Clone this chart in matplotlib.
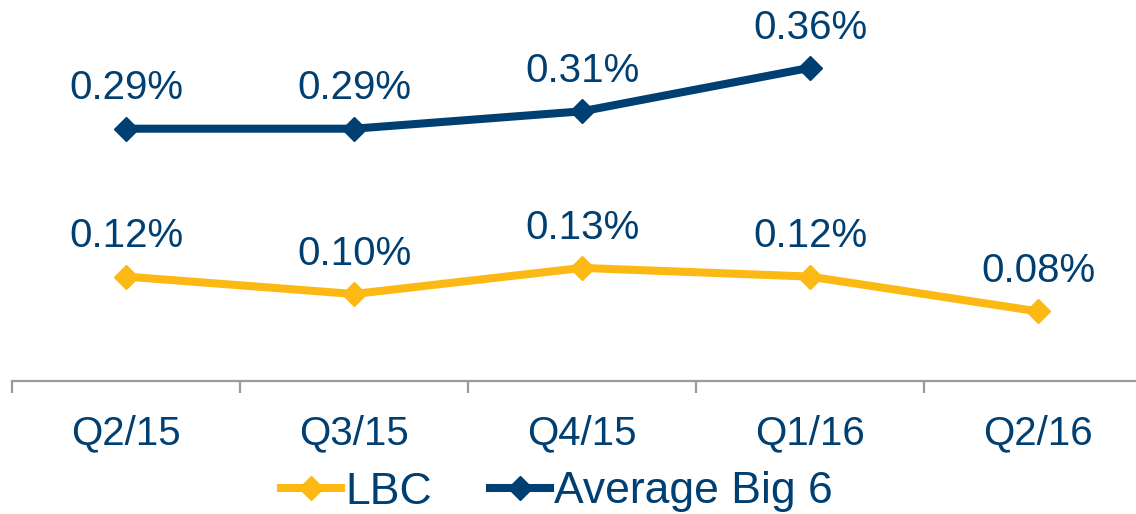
import matplotlib
matplotlib.use("Agg")
from matplotlib import pyplot as plt

# data
quarters = ["Q2/15", "Q3/15", "Q4/15", "Q1/16", "Q2/16"]
lbc = [0.12, 0.10, 0.13, 0.12, 0.08]
big6 = [0.29, 0.29, 0.31, 0.36]
lbc_labels = ["0.12%", "0.10%", "0.13%", "0.12%", "0.08%"]
big6_labels = ["0.29%", "0.29%", "0.31%", "0.36%"]

navy = "#003F72"
gold = "#FDB913"
grey = "#9A9A9A"

plt.rcParams["font.family"] = ["Liberation Sans", "DejaVu Sans"]

fig = plt.figure(figsize=(11.36, 5.14), dpi=100)
# axis runs off the right edge, like the reference
ax = fig.add_axes([12 / 1136, 1 - 381 / 514, 1140 / 1136, 381 / 514])

x_lbc = list(range(len(lbc)))
x_big6 = list(range(len(big6)))

ax.plot(x_lbc, lbc, color=gold, lw=5.8, marker="D", markersize=12.5,
        label="LBC", solid_joinstyle="miter")
ax.plot(x_big6, big6, color=navy, lw=5.8, marker="D", markersize=12.5,
        label="Average Big 6", solid_joinstyle="miter")

for xi, v, t in zip(x_lbc, lbc, lbc_labels):
    ax.annotate(t, (xi, v), xytext=(0, 29), textcoords="offset points",
                ha="center", va="center", fontsize=29, color=navy)
for xi, v, t in zip(x_big6, big6, big6_labels):
    ax.annotate(t, (xi, v), xytext=(0, 29), textcoords="offset points",
                ha="center", va="center", fontsize=29, color=navy)

ax.set_xlim(-0.5, 4.5)
ax.set_ylim(0, 381 / 870)

for side in ["top", "right", "left"]:
    ax.spines[side].set_visible(False)
ax.spines["bottom"].set_color(grey)
ax.spines["bottom"].set_linewidth(1.6)
ax.set_yticks([])

ax.set_xticks(x_lbc)
ax.set_xticklabels(quarters, fontsize=29, color=navy)
ax.tick_params(axis="x", which="major", length=0, pad=24)
ax.set_xticks([i - 0.5 for i in range(len(quarters) + 1)], minor=True)
ax.tick_params(axis="x", which="minor", length=8.5, width=1.6, color=grey,
               direction="out")

fig.legend(loc="center", bbox_to_anchor=(557 / 1136, 1 - 492 / 514), ncol=2,
           frameon=False, fontsize=32, labelcolor=navy, handlelength=1.35,
           handletextpad=0.1, columnspacing=1.3, borderpad=0, borderaxespad=0)

fig.savefig("out.png", dpi=100)
